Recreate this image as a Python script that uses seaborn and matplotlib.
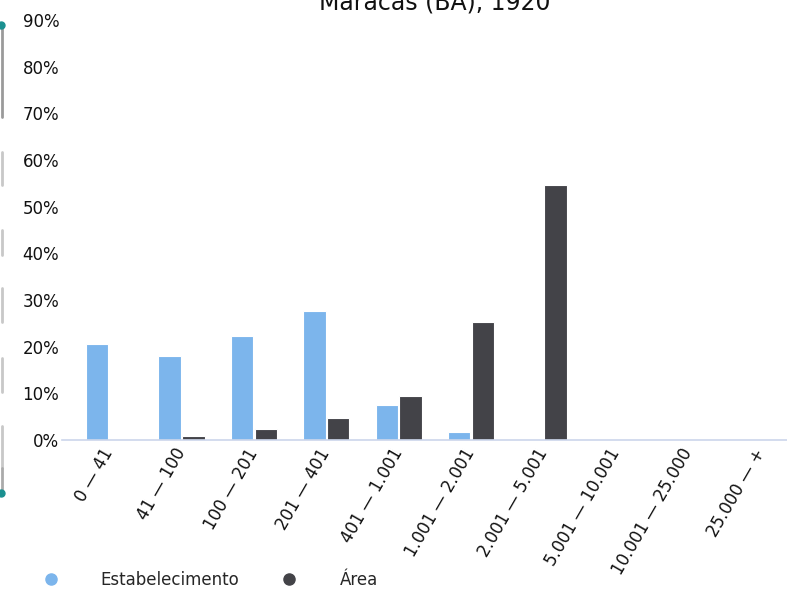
import matplotlib
matplotlib.use("Agg")
import matplotlib.pyplot as plt
from matplotlib.lines import Line2D
import seaborn as sns
import pandas as pd

categories = ["0 — 41", "41 — 100", "100 — 201", "201 — 401", "401 — 1.001",
              "1.001 — 2.001", "2.001 — 5.001", "5.001 — 10.001",
              "10.001 — 25.000", "25.000 — +"]
estabelecimento = [20.6, 17.9, 22.2, 27.6, 7.4, 1.7, 0.0, 0.0, 0.0, 0.0]
area = [0.1, 0.9, 2.4, 4.7, 9.4, 25.3, 54.6, 0.0, 0.0, 0.0]
series_names = ["Estabelecimento", "Área"]
colors = ["#7cb5ec", "#434348"]
yticks = [0, 10, 20, 30, 40, 50, 60, 70, 80, 90]
title = "Maracás (BA), 1920"

df = pd.DataFrame({
    "cat": categories * 2,
    "serie": [series_names[0]] * len(categories) + [series_names[1]] * len(categories),
    "valor": estabelecimento + area,
})

sns.set_style("white")
plt.rcParams['font.family'] = ['DejaVu Sans']

W, H = 787, 589
fig = plt.figure(figsize=(W / 100, H / 100), dpi=100)
ax = fig.add_axes([62 / W, 1 - 440 / H, (787 - 62) / W, 420 / H])

sns.barplot(data=df, x="cat", y="valor", hue="serie", order=categories,
            hue_order=series_names, palette=colors, saturation=1,
            width=0.66, gap=0.06, edgecolor="white", linewidth=0.8,
            ax=ax, legend=False)

ax.set_xlim(-0.648, 9.359)
ax.set_ylim(0, 90)
ax.set_yticks(yticks)
ax.set_yticklabels([f"{v}%" for v in yticks], fontsize=12, color="#111111")
ax.set_xticks(range(len(categories)))
ax.set_xticklabels(categories, rotation=60, ha="right", va="center",
                   rotation_mode="anchor", fontsize=12, color="#111111")
ax.tick_params(axis="both", length=0)
ax.tick_params(axis="y", pad=2)
ax.tick_params(axis="x", pad=7)
for lbl in ax.get_xticklabels():
    lbl.set_x(lbl.get_position()[0])
ax.set_xlabel("")
ax.set_ylabel("")
for s in ["top", "right", "left"]:
    ax.spines[s].set_visible(False)
ax.spines["bottom"].set_color("#ccd6eb")
ax.spines["bottom"].set_linewidth(1.2)
ax.patch.set_alpha(0)

fig.text(435 / W, 1 - 10 / H, title, ha="center", va="baseline", fontsize=17,
         color="#111111")

handles = [Line2D([], [], marker="o", linestyle="none", markersize=8,
                  markerfacecolor=c, markeredgecolor=c) for c in colors]
fig.legend(handles, series_names, loc="center left",
           bbox_to_anchor=(34 / W, 1 - 580 / H), ncol=2, frameon=False,
           fontsize=12, handlelength=2.0, handletextpad=2.0,
           columnspacing=2.0, borderpad=0, borderaxespad=0)

# left-edge decoration
fig.add_artist(Line2D([1.5 / W, 1.5 / W], [1 - 25 / H, 1 - 117 / H],
                      transform=fig.transFigure, color="#9a9a9a", lw=2))
for y0, y1 in [(152, 185), (230, 255), (288, 322), (358, 392), (426, 468)]:
    fig.add_artist(Line2D([1.5 / W, 1.5 / W], [1 - y0 / H, 1 - y1 / H],
                          transform=fig.transFigure, color="#c8c8c8", lw=2))
fig.add_artist(Line2D([1.5 / W, 1.5 / W], [1 - 468 / H, 1 - 490 / H],
                      transform=fig.transFigure, color="#aaaaaa", lw=2))
for yy in [25, 493]:
    fig.add_artist(Line2D([1 / W], [1 - yy / H], transform=fig.transFigure,
                          marker="o", markersize=5, color="#1a9090", lw=0))

fig.savefig("out.png", dpi=100)
